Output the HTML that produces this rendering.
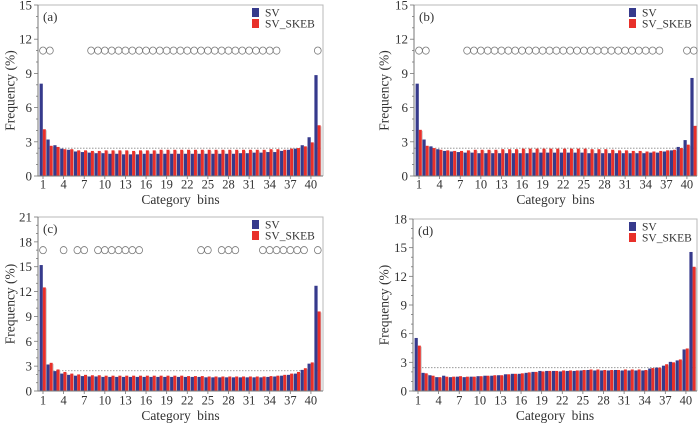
<!DOCTYPE html>
<html><head><meta charset="utf-8"><style>
body{margin:0;background:#fff;width:700px;height:425px;overflow:hidden}
svg{display:block;font-family:"Liberation Serif",serif}
</style></head><body>
<svg id="chart" width="700" height="425" viewBox="0 0 700 425"></svg>
<script>
const bins = Array.from({length:41},(_,i)=>i+1);
const xTickLabels = [1,4,7,10,13,16,19,22,25,28,31,34,37,40];
const panelLabels = ["(a)","(b)","(c)","(d)"];
const yMaxes = [15,15,21,18];
const svA = [8.1,3.2,2.7,2.4,2.3,2.15,2.1,2.05,2.0,2.0,1.95,1.95,1.9,1.9,1.9,1.95,1.95,1.95,1.95,1.95,1.95,1.95,1.95,1.95,1.95,1.95,1.95,1.95,1.95,2.0,2.0,2.05,2.05,2.1,2.1,2.2,2.3,2.4,2.7,3.4,8.85];
const skA = [4.1,2.65,2.55,2.35,2.35,2.25,2.25,2.2,2.2,2.25,2.25,2.25,2.25,2.2,2.25,2.25,2.25,2.3,2.3,2.3,2.3,2.3,2.3,2.3,2.3,2.3,2.3,2.3,2.3,2.3,2.3,2.3,2.3,2.35,2.35,2.3,2.4,2.45,2.6,2.95,4.45];
const svB = [8.1,3.2,2.6,2.35,2.2,2.15,2.1,2.05,2.05,2.0,2.0,2.0,2.0,2.0,2.0,2.0,2.0,2.05,2.05,2.05,2.05,2.05,2.05,2.05,2.05,2.0,2.0,2.0,2.0,2.0,2.0,2.0,2.0,2.0,2.05,2.05,2.15,2.25,2.55,3.15,8.6];
const skB = [4.05,2.65,2.45,2.3,2.25,2.2,2.2,2.25,2.3,2.3,2.3,2.3,2.35,2.35,2.35,2.4,2.4,2.4,2.4,2.4,2.4,2.4,2.4,2.4,2.4,2.35,2.35,2.35,2.3,2.25,2.25,2.2,2.2,2.15,2.15,2.2,2.25,2.3,2.45,2.75,4.4];
const svC = [15.2,3.2,2.4,2.1,1.95,1.85,1.8,1.75,1.75,1.7,1.7,1.7,1.7,1.7,1.7,1.7,1.7,1.7,1.7,1.7,1.7,1.7,1.7,1.7,1.65,1.65,1.65,1.65,1.65,1.65,1.65,1.65,1.65,1.7,1.75,1.85,1.95,2.1,2.55,3.3,12.7];
const skC = [12.5,3.4,2.6,2.3,2.1,2.0,1.95,1.9,1.9,1.85,1.85,1.85,1.85,1.85,1.85,1.85,1.85,1.85,1.85,1.85,1.85,1.8,1.8,1.8,1.75,1.75,1.75,1.75,1.75,1.75,1.75,1.75,1.75,1.8,1.85,1.95,2.1,2.3,2.75,3.45,9.6];
const svD = [5.55,1.9,1.65,1.45,1.6,1.45,1.5,1.45,1.5,1.55,1.6,1.6,1.65,1.75,1.8,1.8,1.9,2.0,2.1,2.1,2.1,2.05,2.1,2.1,2.15,2.2,2.15,2.15,2.15,2.2,2.15,2.15,2.15,2.15,2.35,2.45,2.65,3.05,3.2,4.35,14.55];
const skD = [4.75,1.85,1.6,1.45,1.5,1.5,1.55,1.5,1.5,1.55,1.6,1.65,1.65,1.75,1.8,1.85,1.95,2.0,2.05,2.1,2.1,2.15,2.15,2.15,2.2,2.25,2.25,2.2,2.2,2.2,2.25,2.25,2.25,2.2,2.4,2.45,2.8,3.0,3.3,4.45,13.0];
const markA = [1,2,8,9,10,11,12,13,14,15,16,17,18,19,20,21,22,23,24,25,26,27,28,29,30,31,32,33,34,35,41];
const markB = [1,2,8,9,10,11,12,13,14,15,16,17,18,19,20,21,22,23,24,25,26,27,28,29,30,31,32,33,34,35,36,40,41];
const markC = [1,4,6,7,9,10,11,12,13,14,15,24,25,27,28,29,33,34,35,36,37,38,39,41];
const markD = [];
const markY = [11,11,17,null];
const refLine = 2.44;

const NS="http://www.w3.org/2000/svg";
const svg=document.getElementById('chart');
function mk(tag,attrs,parent,txt){const e=document.createElementNS(NS,tag);for(const k in attrs)e.setAttribute(k,attrs[k]);if(txt!==undefined)e.textContent=txt;(parent||svg).appendChild(e);return e;}

const panels=[
 {c1:43,yTop:5,yZero:176,right:323,sv:svA,sk:skA,marks:markA,tickY:184,titleY:204,yTitleX:10,legX:252},
 {c1:419,yTop:5,yZero:176,right:697,sv:svB,sk:skB,marks:markB,tickY:184,titleY:204,yTitleX:384,legX:629},
 {c1:43,yTop:217,yZero:391,right:323,sv:svC,sk:skC,marks:markC,tickY:400,titleY:420,yTitleX:10,legX:252},
 {c1:418,yTop:219,yZero:391,right:697,sv:svD,sk:skD,marks:markD,tickY:400,titleY:420,yTitleX:384,legX:629}
];
const step=6.87;
panels.forEach((p,pi)=>{
  const g=mk('g',{});
  
  
  const yMax=yMaxes[pi];
  const ys=v=>p.yZero-(v/yMax)*(p.yZero-p.yTop);
  const xs=b=>p.c1+(b-1)*step;
  const axX=p.c1-5;
  const fr=mk('path',{d:`M${axX} ${p.yTop}H${p.right}V${p.yZero}`,fill:'none',stroke:'#b8b8b8','stroke-width':1},g);
  
  
  const rl=mk('line',{x1:axX,x2:p.right,y1:ys(refLine),y2:ys(refLine),stroke:'#888','stroke-width':0.8,'stroke-dasharray':'1.5,1.5'},g);
  
  
  bins.forEach((b,i)=>{
    const x=xs(b);
    const sh=mk('rect',{x:x+2.8,y:ys(p.sk[i])+1,width:0.9,height:p.yZero-ys(p.sk[i])-1,fill:'#c4c4c4'},g);
    
    
    const r1=mk('rect',{x:x-3.4,y:ys(p.sv[i]),width:3.2,height:p.yZero-ys(p.sv[i]),fill:'#363a8c'},g);
    
    
    const r2=mk('rect',{x:x-0.2,y:ys(p.sk[i]),width:3.0,height:p.yZero-ys(p.sk[i]),fill:'#e8302a'},g);
    
    
  });
  const ax=mk('path',{d:`M${axX} ${p.yTop}V${p.yZero}H${p.right}`,fill:'none',stroke:'#777','stroke-width':1},g);
  
  
  for(let v=0;v<=yMax;v++){
    const major=v%3===0;
    mk('line',{x1:axX-(major?4:2),x2:axX,y1:ys(v),y2:ys(v),stroke:'#777','stroke-width':0.8},g);
    if(major){
      const t=mk('text',{x:axX-6,y:ys(v)+4.5,'text-anchor':'end','font-size':13,fill:'#333'},g,String(v));
      
      
    }
  }
  xTickLabels.forEach(l=>{
    mk('line',{x1:xs(l),x2:xs(l),y1:p.yZero,y2:p.yZero+3,stroke:'#777','stroke-width':0.8},g);
    const t=mk('text',{x:xs(l),y:p.tickY+4.5,'text-anchor':'middle','font-size':12.5,fill:'#333'},g,String(l));
    
    
  });
  const xt=mk('text',{x:(axX+p.right)/2,y:p.titleY,'text-anchor':'middle','font-size':13.5,fill:'#333','word-spacing':3},g,'Category bins');
  
  
  const yc=(p.yTop+p.yZero)/2;
  const yt=mk('text',{x:p.yTitleX,y:yc,'text-anchor':'middle','font-size':13.5,fill:'#333',transform:`rotate(-90 ${p.yTitleX} ${yc})`,dy:'0.35em'},g,'Frequency (%)');
  
  
  const pl=mk('text',{x:p.c1,y:p.yTop+16,'font-size':13,fill:'#333'},g,panelLabels[pi]);
  
  
  const l1=mk('rect',{x:p.legX,y:p.yTop+3,width:7,height:9,fill:'#363a8c'},g);
  
  
  const lt1=mk('text',{x:p.legX+13,y:p.yTop+11.5,'font-size':11.5,fill:'#333'},g,'SV');
  
  
  const l2=mk('rect',{x:p.legX,y:p.yTop+14,width:7,height:9,fill:'#e8302a'},g);
  
  
  const lt2=mk('text',{x:p.legX+13,y:p.yTop+22.5,'font-size':11.5,fill:'#333'},g,'SV_SKEB');
  
  
  if(markY[pi]!==null){
    p.marks.forEach(b=>{
      const c=mk('ellipse',{cx:xs(b),cy:ys(markY[pi]),rx:3.4,ry:3.6,fill:'none',stroke:'#777','stroke-width':0.8},g);
      
      
    });
  }
});
</script>
</body></html>
